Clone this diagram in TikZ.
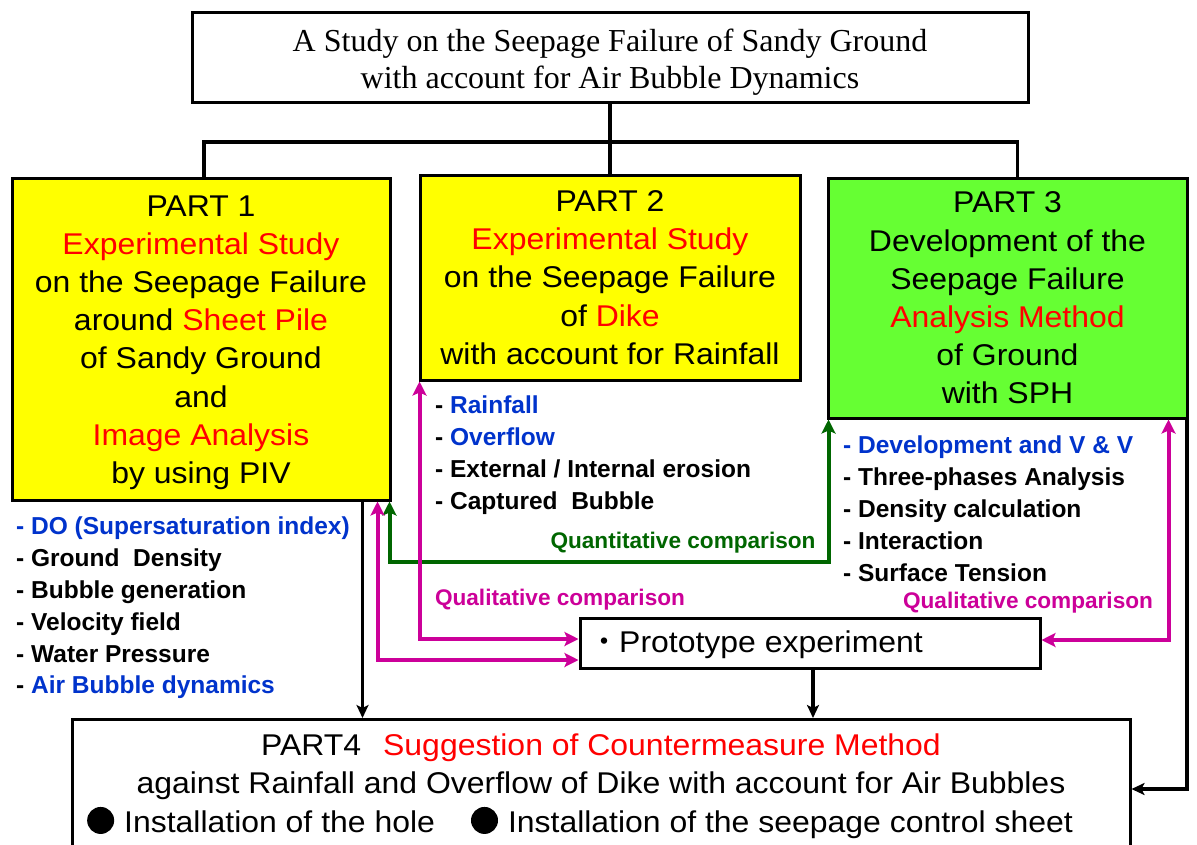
\documentclass[tikz,border=0pt]{standalone}
\usepackage{fontspec}
\setmainfont{Liberation Sans}
\newfontfamily\serifttl{Liberation Serif}
\newfontfamily\widef{Liberation Sans}[FakeStretch=1.065]
\newfontfamily\cjkf{Noto Sans CJK JP}
\usetikzlibrary{arrows.meta}
\definecolor{pyellow}{HTML}{FFFF00}
\definecolor{pgreen}{HTML}{66FF33}
\definecolor{tred}{HTML}{FF0000}
\definecolor{tblue}{HTML}{0033CC}
\definecolor{tmag}{HTML}{CC0099}
\definecolor{tdgreen}{HTML}{006600}
\newcommand\bigdot{\tikz[baseline=-12pt]\fill[black] (0,0) circle (13.5pt);}
\tikzset{
  box/.style={draw=black, line width=3pt, inner sep=0pt, align=center},
  parttxt/.style={font=\widef\fontsize{30}{38.2}\selectfont},
  listtxt/.style={font=\fontsize{24.5}{31.8}\selectfont\bfseries, align=left, anchor=north west, inner sep=0pt},
  lbl/.style={font=\fontsize{22.6}{26}\selectfont\bfseries, inner sep=0pt},
  blk/.style={line width=3.5pt, draw=black},
  blkarr/.style={blk, -{Stealth[length=13pt,width=12pt,inset=3pt]}},
  magarr/.style={line width=4pt, draw=tmag, {Stealth[length=14pt,width=14pt,inset=3pt]}-{Stealth[length=14pt,width=14pt,inset=3pt]}},
  grnarr/.style={line width=4pt, draw=tdgreen, {Stealth[length=14pt,width=14pt,inset=3pt]}-{Stealth[length=14pt,width=14pt,inset=3pt]}},
}
\begin{document}
\begin{tikzpicture}[x=1pt,y=-1pt]
\clip (0,0) rectangle (1197,844);
\fill[white] (0,0) rectangle (1197,844);

% title
\node[box, minimum width=836pt, minimum height=90pt] (title) at (610,57) {};
\node[inner sep=0pt, align=center, font=\serifttl\fontsize{32}{37}\selectfont] (titletxt)
  at ([yshift=-5pt]title.center)
  {A Study on the Seepage Failure of Sandy Ground\\with account for Air Bubble Dynamics};

% parts
\node[box, parttxt, fill=pyellow, minimum width=378pt, minimum height=322pt] (p1) at (201,339)
  {\rule{0pt}{28pt}PART 1\\\textcolor{tred}{Experimental Study}\\on the Seepage Failure\\around \textcolor{tred}{Sheet Pile}\\of Sandy Ground\\and\\\textcolor{tred}{Image Analysis}\\by using PIV};
\node[box, parttxt, fill=pyellow, minimum width=380pt, minimum height=205pt] (p2) at (610,277.5)
  {PART 2\\\textcolor{tred}{Experimental Study}\\on the Seepage Failure\\of \textcolor{tred}{Dike}\\with account for Rainfall};
\node[box, parttxt, fill=pgreen, minimum width=359pt, minimum height=240pt] (p3) at (1007.5,298)
  {PART 3\\Development of the\\Seepage Failure\\\textcolor{tred}{Analysis Method}\\of Ground\\with SPH};

% tree connectors
\coordinate (j) at (610,142);
\draw[blk] (title.south) -- (j);
\draw[blk] ([xshift=3pt]p1.north) |- (j) -| ([xshift=10pt]p3.north);
\draw[blk] (j) -- (p2.north);

% lists
\node[listtxt] (l1) at (16,517)
  {\textcolor{tblue}{- DO (Supersaturation index)}\\- Ground\ \ Density\\- Bubble generation\\- Velocity field\\- Water Pressure\\- \textcolor{tblue}{Air Bubble dynamics}};
\node[listtxt] (l2) at (435,396)
  {- \textcolor{tblue}{Rainfall}\\- \textcolor{tblue}{Overflow}\\- External / Internal erosion\\- Captured\ \ Bubble};
\node[listtxt] (l3) at (843,436)
  {\textcolor{tblue}{- Development and V \& V}\\- Three-phases Analysis\\- Density calculation\\- Interaction\\- Surface Tension};

% prototype
\node[box, minimum width=460pt, minimum height=50pt] (proto) at (810,643) {};
\node[anchor=west, inner sep=0pt, font=\widef\fontsize{30}{34}\selectfont] (prototxt) at (589,645)
  {{\cjkf ・}Prototype experiment};

% bottom box
\node[box, minimum width=1058pt, minimum height=150pt, anchor=north] (bot) at (601,718) {};
\node[inner sep=0pt, align=center, font=\widef\fontsize{30}{38.5}\selectfont, anchor=north] (bottxt) at (601,733.5)
  {PART4\hspace{22pt}\textcolor{tred}{Suggestion of Countermeasure Method}\\
   against Rainfall and Overflow of Dike with account for Air Bubbles\\
   \bigdot\hspace{10pt}Installation of the hole\hspace{36pt}\bigdot\hspace{10pt}Installation of the seepage control sheet\hspace*{42pt}\null};

% arrows to bottom
\draw[blkarr] ([xshift=-29pt]p1.south east) -- ([xshift=-29pt]p1.south east |- bot.north);
\draw[blkarr] ([xshift=3pt]proto.south) -- ([xshift=3pt]proto.south |- bot.north);
\draw[blkarr] ([xshift=-1.5pt]p3.south east) |- ([yshift=-71pt]bot.north east);

% comparisons
\draw[grnarr] ([xshift=-2pt]p1.south east) -- ++(0,60) -| ([xshift=2pt]p3.south west);
\draw[magarr] ([xshift=1pt]p2.south west) |- ([yshift=4pt]proto.west);
\draw[magarr] ([xshift=-14pt]p1.south east) |- ([yshift=-17pt]proto.west);
\draw[magarr] ([xshift=-20pt]p3.south east) |- ([yshift=3pt]proto.east);

\node[lbl, text=tdgreen] (quant) at (683,543) {Quantitative comparison};
\node[lbl, text=tmag] (qual1) at (560,600) {Qualitative comparison};
\node[lbl, text=tmag] (qual2) at (1028,603) {Qualitative comparison};
\end{tikzpicture}
\end{document}
